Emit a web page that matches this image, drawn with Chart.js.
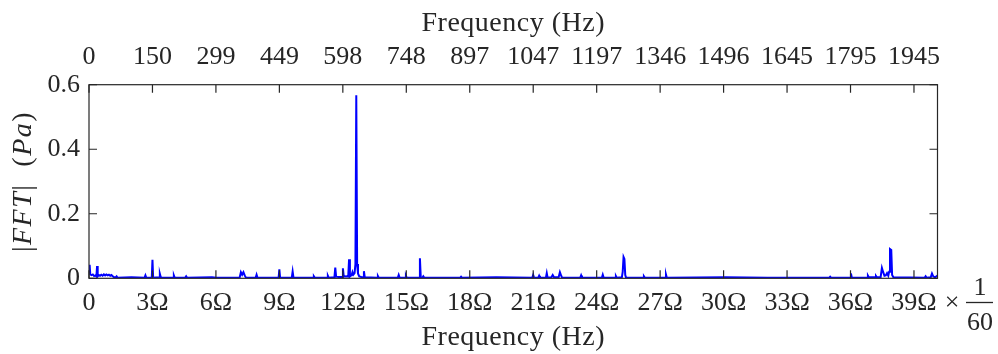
<!DOCTYPE html>
<html>
<head>
<meta charset="utf-8">
<script src="https://cdn.jsdelivr.net/npm/chart.js@4/dist/chart.umd.min.js"></script>
<style>
  html, body { margin: 0; padding: 0; background: #ffffff; }
  #wrap { width: 998px; height: 354px; position: relative; }
</style>
</head>
<body>
<div id="wrap"><canvas id="fft" width="998" height="354"></canvas></div>
<script>
// Rotor fundamental frequency (Hz); bottom axis is labelled in multiples of it.
const OMEGA_HZ = 49.86;

// Spectrum samples: frequency (Hz) and FFT magnitude (Pa)
const spectrumHz = [
  0, 1.5, 3, 6, 9, 12, 15, 17.5, 19, 20.5, 23, 26, 29, 32, 35, 38, 41, 44, 47, 50, 53, 56, 59, 63, 65, 67,
  100, 131, 133, 135, 148, 149.6, 151.2, 165, 167, 169, 171, 198, 200, 202, 227, 229, 231, 290, 300,
  355, 358, 361, 364, 367, 370, 393, 395, 397, 447, 448.7, 450.4, 478, 480, 482, 528, 530, 532,
  561, 563, 565, 578.5, 580.5, 582.5, 588, 596.5, 598.5, 600.5, 606, 611, 613, 615, 619, 621, 623,
  626, 628, 630, 632, 634, 637, 642, 646, 648, 650, 679, 681, 683, 728, 730, 732, 745, 747, 749,
  778, 780, 782, 786, 788, 790, 875, 877, 879, 960, 1045, 1047, 1049, 1059, 1061, 1063, 1077, 1079, 1081,
  1090, 1093, 1096, 1107, 1110, 1113, 1115, 1158, 1160, 1162, 1209, 1211, 1213, 1240, 1242, 1244,
  1256, 1258, 1260, 1262, 1264, 1266, 1306, 1308, 1310, 1358, 1360, 1362, 1500, 1600,
  1745, 1747, 1749, 1794, 1796, 1798, 1834, 1836, 1838, 1853, 1855, 1857,
  1866, 1869, 1872, 1875, 1878, 1881, 1884, 1886, 1888, 1891, 1893, 1896,
  1970, 1972, 1974, 1984, 1987, 1990, 1994, 2000
];
const spectrumPa = [
  0.020, 0.042, 0.012, 0.010, 0.012, 0.007, 0.009, 0.006, 0.038, 0.006, 0.010, 0.008, 0.011, 0.008, 0.012, 0.009, 0.012, 0.009, 0.011, 0.008, 0.010, 0.006, 0.003, 0.003, 0.006, 0.002,
  0.003, 0.002, 0.009, 0.002, 0.002, 0.057, 0.002, 0.003, 0.014, 0.004, 0.002, 0.002, 0.009, 0.002, 0.002, 0.006, 0.002, 0.003, 0.002,
  0.002, 0.019, 0.011, 0.019, 0.009, 0.002, 0.002, 0.011, 0.002, 0.002, 0.028, 0.002, 0.002, 0.021, 0.002, 0.002, 0.006, 0.002,
  0.002, 0.008, 0.002, 0.003, 0.033, 0.005, 0.004, 0.004, 0.031, 0.005, 0.006, 0.005, 0.059, 0.006, 0.010, 0.019, 0.011,
  0.016, 0.044, 0.567, 0.044, 0.015, 0.006, 0.004, 0.003, 0.022, 0.003, 0.002, 0.007, 0.002, 0.002, 0.010, 0.002, 0.002, 0.008, 0.002,
  0.002, 0.062, 0.002, 0.002, 0.006, 0.002, 0.002, 0.005, 0.002, 0.003, 0.002, 0.010, 0.002, 0.002, 0.008, 0.002, 0.002, 0.016, 0.002,
  0.003, 0.010, 0.003, 0.003, 0.019, 0.008, 0.002, 0.002, 0.009, 0.002, 0.002, 0.011, 0.002, 0.002, 0.007, 0.002,
  0.003, 0.020, 0.066, 0.060, 0.010, 0.002, 0.002, 0.006, 0.002, 0.002, 0.012, 0.002, 0.003, 0.002,
  0.002, 0.005, 0.002, 0.002, 0.015, 0.002, 0.002, 0.008, 0.003, 0.003, 0.007, 0.003,
  0.004, 0.032, 0.019, 0.008, 0.009, 0.016, 0.008, 0.020, 0.091, 0.088, 0.010, 0.003,
  0.002, 0.006, 0.002, 0.003, 0.015, 0.006, 0.003, 0.008
];

// Axis ticks
const harmonicOrders = [0, 3, 6, 9, 12, 15, 18, 21, 24, 27, 30, 33, 36, 39];
const bottomTickLabels = ['0', '3\u03A9', '6\u03A9', '9\u03A9', '12\u03A9', '15\u03A9', '18\u03A9', '21\u03A9',
  '24\u03A9', '27\u03A9', '30\u03A9', '33\u03A9', '36\u03A9', '39\u03A9'];
const topTickLabels = ['0', '150', '299', '449', '598', '748', '897', '1047', '1197', '1346', '1496', '1645', '1795', '1945'];
const yTickValues = [0, 0.2, 0.4, 0.6];
const yTickLabels = ['0', '0.2', '0.4', '0.6'];

const FONT = "'Liberation Serif', 'DejaVu Serif', serif";
const INK = '#262626';

const points = spectrumHz.map((f, i) => ({ x: f, y: spectrumPa[i] }));

function harmonicTicks(scale) {
  scale.ticks = harmonicOrders.map(k => ({ value: k * OMEGA_HZ }));
}

// Box, inward tick marks, titles and the multiplier note
const decorations = {
  id: 'decorations',
  afterDatasetsDraw(chart) {
    const ctx = chart.ctx;
    const a = chart.chartArea;
    const xs = chart.scales.x;
    const ys = chart.scales.y;
    const TL = 8;
    ctx.save();
    ctx.strokeStyle = INK;
    ctx.lineWidth = 1.2;
    ctx.strokeRect(a.left, a.top, a.right - a.left, a.bottom - a.top);
    ctx.beginPath();
    harmonicOrders.forEach(k => {
      const px = xs.getPixelForValue(k * OMEGA_HZ);
      ctx.moveTo(px, a.bottom); ctx.lineTo(px, a.bottom - TL);
      ctx.moveTo(px, a.top); ctx.lineTo(px, a.top + TL);
    });
    yTickValues.forEach(v => {
      const py = ys.getPixelForValue(v);
      ctx.moveTo(a.left, py); ctx.lineTo(a.left + TL, py);
      ctx.moveTo(a.right, py); ctx.lineTo(a.right - TL, py);
    });
    ctx.stroke();

    ctx.fillStyle = INK;
    ctx.textAlign = 'center';
    ctx.textBaseline = 'alphabetic';
    ctx.font = '28px ' + FONT;
    ctx.letterSpacing = '0.5px';
    const cx = (a.left + a.right) / 2;
    ctx.fillText('Frequency (Hz)', cx, 31);
    ctx.fillText('Frequency (Hz)', cx, 345);
    ctx.letterSpacing = '0px';

    // x 1/60 multiplier
    ctx.font = '26px ' + FONT;
    ctx.textBaseline = 'middle';
    ctx.fillText('\u00D7', 952, 303);
    ctx.textBaseline = 'alphabetic';
    ctx.fillText('1', 980, 295);
    ctx.fillText('60', 980, 330);
    ctx.beginPath();
    ctx.lineWidth = 1.3;
    ctx.moveTo(966, 302.5); ctx.lineTo(993, 302.5);
    ctx.stroke();

    // y title with math-italic letters
    const parts = [
      ['|', ''], ['FFT', 'italic '], ['|', ''], ['  (', ''], ['Pa', 'italic '], [')', '']
    ];
    ctx.letterSpacing = '1.5px';
    let total = 0;
    parts.forEach(p => { ctx.font = p[1] + '28px ' + FONT; total += ctx.measureText(p[0]).width; });
    ctx.translate(31, (a.top + a.bottom) / 2);
    ctx.rotate(-Math.PI / 2);
    ctx.textAlign = 'left';
    let x = -total / 2;
    parts.forEach(p => {
      ctx.font = p[1] + '28px ' + FONT;
      ctx.fillText(p[0], x, 0);
      x += ctx.measureText(p[0]).width;
    });
    ctx.restore();
  }
};

new Chart(document.getElementById('fft'), {
  type: 'line',
  data: {
    datasets: [{
      data: points,
      borderColor: '#0000ff',
      borderWidth: 2,
      pointRadius: 0,
      tension: 0,
      fill: false
    }]
  },
  options: {
    responsive: false,
    animation: false,
    events: [],
    layout: { padding: { left: 0, right: 60.5, top: 0, bottom: 0 } },
    plugins: { legend: { display: false }, tooltip: { enabled: false } },
    scales: {
      x: {
        type: 'linear', position: 'bottom', min: 0, max: 2000,
        grid: { display: false, drawTicks: false }, border: { display: false },
        afterBuildTicks: harmonicTicks,
        afterFit(s) { s.height = 75.7; },
        ticks: {
          autoSkip: false, maxRotation: 0, padding: 9, color: INK,
          font: { family: FONT, size: 26 },
          callback: (v, i) => bottomTickLabels[i]
        }
      },
      x2: {
        type: 'linear', position: 'top', min: 0, max: 2000,
        grid: { display: false, drawTicks: false }, border: { display: false },
        afterBuildTicks: harmonicTicks,
        afterFit(s) { s.height = 84.7; },
        ticks: {
          autoSkip: false, maxRotation: 0, padding: 12, color: INK,
          font: { family: FONT, size: 26 },
          callback: (v, i) => topTickLabels[i]
        }
      },
      y: {
        type: 'linear', min: 0, max: 0.6,
        grid: { display: false, drawTicks: false }, border: { display: false },
        afterBuildTicks(s) { s.ticks = yTickValues.map(v => ({ value: v })); },
        afterFit(s) { s.width = 89; },
        ticks: {
          padding: 9, color: INK,
          font: { family: FONT, size: 26 },
          callback: (v, i) => yTickLabels[i]
        }
      }
    }
  },
  plugins: [decorations]
});
</script>
</body>
</html>
